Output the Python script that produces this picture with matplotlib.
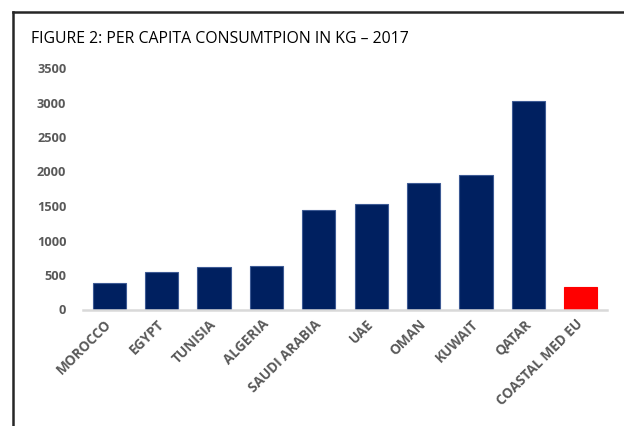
import matplotlib
matplotlib.use("Agg")
import matplotlib.pyplot as plt
from matplotlib.lines import Line2D

countries = ["MOROCCO", "EGYPT", "TUNISIA", "ALGERIA", "SAUDI ARABIA",
             "UAE", "OMAN", "KUWAIT", "QATAR", "COASTAL MED EU"]
consumption_kg = [380, 550, 610, 635, 1440, 1530, 1830, 1950, 3020, 325]
bar_colors = ["#002060"] * 9 + ["#ff0000"]
edge_colors = ["#3d5a94"] * 9 + ["#ff0000"]
y_ticks = [0, 500, 1000, 1500, 2000, 2500, 3000, 3500]

W, H = 624, 426
fig = plt.figure(figsize=(W / 100, H / 100), dpi=100)
plt.rcParams["font.family"] = ["Open Sans", "DejaVu Sans"]

ax = fig.add_axes([83 / W, 1 - 309.5 / H, (607 - 83) / W, (309.5 - 68) / H])
x = list(range(len(countries)))
ax.bar(x, consumption_kg, width=0.63, color=bar_colors,
       edgecolor=edge_colors, linewidth=0.8, zorder=2)

ax.set_xlim(-0.5, len(countries) - 0.5)
ax.set_ylim(0, 3500)
ax.set_yticks(y_ticks)
ax.set_yticklabels([str(v) for v in y_ticks], fontsize=9.2,
                   fontweight="bold", color="#595959")
ax.set_xticks(x)
ax.set_xticklabels(countries, rotation=45, ha="right", va="center",
                   rotation_mode="anchor", fontsize=9.8,
                   fontweight="bold", color="#595959")
ax.tick_params(axis="y", length=0, pad=12)
ax.tick_params(axis="x", length=0, pad=9)

for side in ("left", "right", "top"):
    ax.spines[side].set_visible(False)
ax.spines["bottom"].set_color("#d9d9d9")
ax.spines["bottom"].set_linewidth(1.8)

# frame around the figure (left and top edges)
fig.add_artist(Line2D([13 / W, 13 / W], [0, 1 - 12 / H], color="#262626",
                      linewidth=1.8, transform=fig.transFigure))
fig.add_artist(Line2D([13 / W, 1], [1 - 12 / H, 1 - 12 / H], color="#262626",
                      linewidth=1.8, transform=fig.transFigure))

fig.text(31 / W, 1 - 39 / H, "FIGURE 2: PER CAPITA CONSUMTPION IN KG – 2017",
         fontsize=11.4, color="#000000", ha="left", va="center")

fig.savefig("out.png", dpi=100)
